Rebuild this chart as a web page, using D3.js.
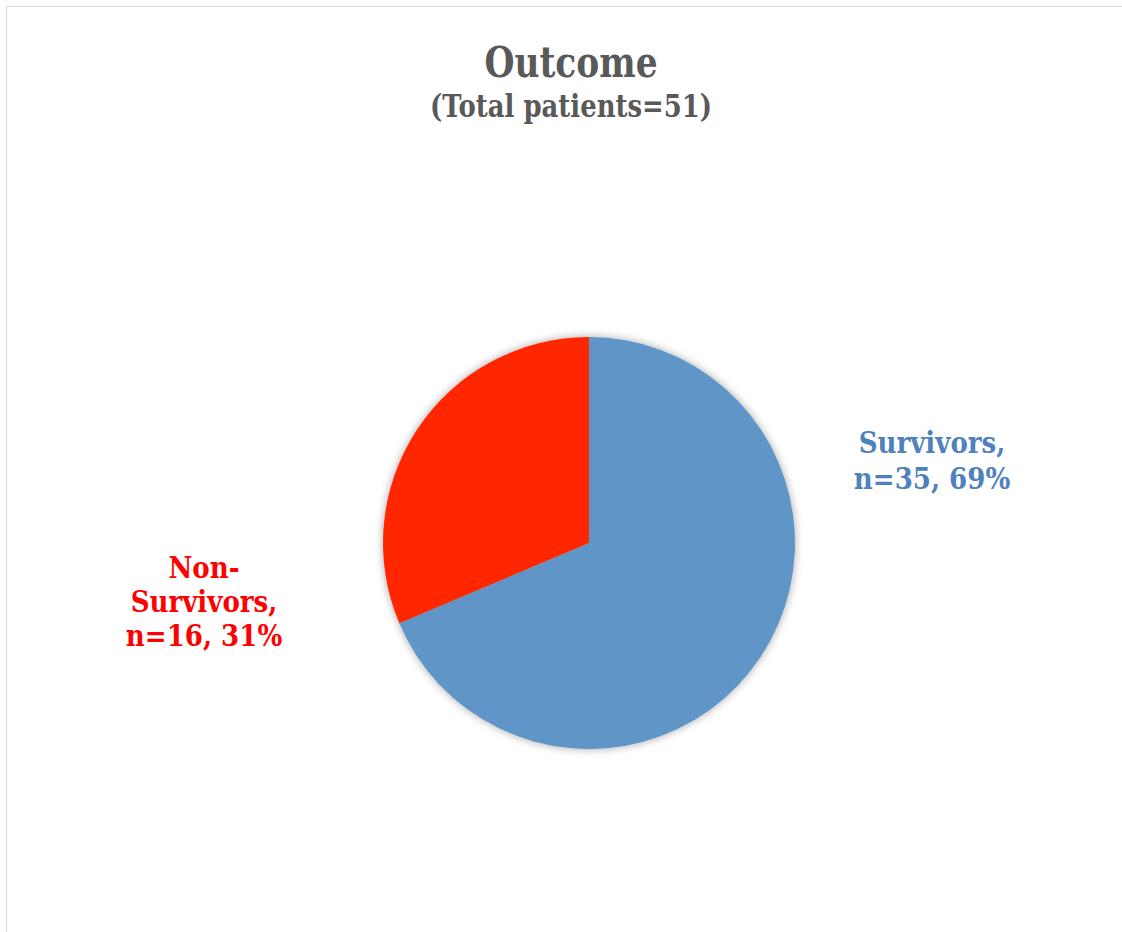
<!DOCTYPE html>
<html>
<head>
<meta charset="utf-8">
<script src="https://cdn.jsdelivr.net/npm/d3@7"></script>
<style>
  html, body { margin: 0; padding: 0; background: #fff; }
  svg { display: block; }
  text { font-family: "DejaVu Serif", "Liberation Serif", serif; font-weight: bold; }
</style>
</head>
<body>
<script>
// Outcome counts
const categories = ["Survivors", "Non-Survivors"];
const counts = [35, 16];
const percents = [69, 31];
const colors = ["#5F96C7", "#FF2500"];
const labelColors = ["#4F81BD", "#FF0000"];
const titleText = "Outcome";
const subtitleText = "(Total patients=51)";

const W = 1122, H = 932;
const svg = d3.select("body").append("svg").attr("width", W).attr("height", H);

// Chart frame (top and left edges)
svg.append("line").attr("x1", 6.5).attr("y1", 6.5).attr("x2", W).attr("y2", 6.5)
  .attr("stroke", "#D9D9D9").attr("stroke-width", 1);
svg.append("line").attr("x1", 6.5).attr("y1", 6.5).attr("x2", 6.5).attr("y2", H)
  .attr("stroke", "#D9D9D9").attr("stroke-width", 1);

// Soft outer shadow for the pie
const defs = svg.append("defs");
const f = defs.append("filter").attr("id", "pieShadow")
  .attr("x", "-20%").attr("y", "-20%").attr("width", "140%").attr("height", "140%");
f.append("feDropShadow").attr("dx", 0).attr("dy", 0).attr("stdDeviation", 4)
  .attr("flood-color", "#000").attr("flood-opacity", 0.35);

// Horizontally condensed text block helper
function condensed(x, y, sx, size, fill, lines, lh) {
  const t = svg.append("g").attr("transform", `translate(${x},${y}) scale(${sx},1)`)
    .append("text").attr("text-anchor", "middle").attr("font-size", size).attr("fill", fill);
  lines.forEach((ln, k) => t.append("tspan").attr("x", 0).attr("y", k * lh).text(ln));
  return t;
}

// Titles
condensed(571, 77, 0.82, 42, "#595959", [titleText], 0);
condensed(571, 117, 0.81, 32, "#595959", [subtitleText], 0);

// Pie
const cx = 589, cy = 543, r = 206;
const data = categories.map((c, i) => ({ name: c, value: counts[i], pct: percents[i], i }));
const pie = d3.pie().sort(null).value(d => d.value);
const arc = d3.arc().innerRadius(0).outerRadius(r);
const g = svg.append("g").attr("transform", `translate(${cx},${cy})`);
g.append("g").attr("filter", "url(#pieShadow)")
  .selectAll("path").data(pie(data)).join("path")
  .attr("d", arc).attr("fill", d => colors[d.data.i]);

// Data labels
condensed(932, 453, 0.9, 29, labelColors[0],
  [categories[0] + ",", `n=${counts[0]}, ${percents[0]}%`], 36);
condensed(204, 578, 0.9, 29, labelColors[1],
  ["Non-", "Survivors,", `n=${counts[1]}, ${percents[1]}%`], 34);
</script>
</body>
</html>
